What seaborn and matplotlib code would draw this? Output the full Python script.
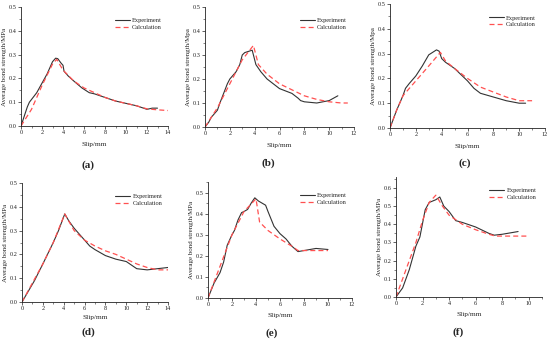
import numpy as np
import pandas as pd
import matplotlib
matplotlib.use("Agg")
import matplotlib.pyplot as plt
import seaborn as sns
from matplotlib.ticker import AutoMinorLocator

# slip (mm) / average bond strength (MPa)
exp_a_x = [0, 0.3, 0.6, 0.8, 1.5, 2, 2.5, 3, 3.3, 3.5, 3.8, 4.0, 4.1, 4.5, 5, 5.8, 6.5, 7, 8, 9, 10, 11, 12, 12.5, 13]
exp_a_y = [0, 0.04, 0.08, 0.10, 0.14, 0.18, 0.22, 0.27, 0.285, 0.283, 0.265, 0.255, 0.23, 0.21, 0.19, 0.16, 0.14, 0.135, 0.12, 0.105, 0.095, 0.085, 0.07, 0.075, 0.075]
cal_a_x = [0, 1, 2, 3, 3.4, 4, 5, 6, 7, 8, 9, 10, 11, 12, 13, 14]
cal_a_y = [0, 0.07, 0.17, 0.26, 0.28, 0.235, 0.19, 0.16, 0.14, 0.12, 0.105, 0.095, 0.085, 0.072, 0.068, 0.065]

exp_b_x = [0, 0.3, 0.5, 1, 1.2, 1.8, 2, 2.5, 2.8, 3, 3.2, 3.5, 3.8, 4, 4.1, 4.5, 5, 6, 7, 7.5, 7.7, 8, 9, 10, 10.7]
exp_b_y = [0, 0.02, 0.04, 0.07, 0.10, 0.18, 0.20, 0.23, 0.26, 0.30, 0.31, 0.315, 0.32, 0.28, 0.26, 0.23, 0.20, 0.16, 0.14, 0.12, 0.11, 0.105, 0.10, 0.11, 0.13]
cal_b_x = [0, 1, 2, 3, 3.9, 4.3, 5, 6, 7, 8, 9, 10, 11, 11.5]
cal_b_y = [0, 0.08, 0.18, 0.28, 0.34, 0.26, 0.22, 0.18, 0.155, 0.13, 0.115, 0.105, 0.10, 0.10]

exp_c_x = [0, 0.5, 1, 1.2, 1.5, 2, 2.5, 3, 3.3, 3.6, 3.8, 4, 4.3, 5, 6, 6.5, 7, 8, 9, 10, 10.5]
exp_c_y = [0, 0.07, 0.13, 0.16, 0.18, 0.21, 0.25, 0.295, 0.305, 0.315, 0.31, 0.28, 0.265, 0.24, 0.19, 0.16, 0.14, 0.125, 0.11, 0.10, 0.10]
cal_c_x = [0, 0.5, 1, 2, 3, 3.9, 4.3, 5, 6, 7, 8, 9, 10, 11]
cal_c_y = [0, 0.07, 0.13, 0.19, 0.25, 0.305, 0.27, 0.24, 0.20, 0.165, 0.145, 0.125, 0.11, 0.11]

exp_d_x = [0, 1.2, 2, 3, 3.5, 4.1, 4.5, 5, 6, 6.5, 7, 8, 9, 10, 11, 12, 13, 14]
exp_d_y = [0, 0.09, 0.16, 0.25, 0.30, 0.37, 0.34, 0.31, 0.26, 0.235, 0.22, 0.195, 0.18, 0.17, 0.14, 0.135, 0.14, 0.145]
cal_d_x = [0, 1, 2, 3, 4.1, 5, 6, 7, 8, 9, 10, 11, 12, 13, 14]
cal_d_y = [0, 0.08, 0.16, 0.25, 0.37, 0.30, 0.26, 0.235, 0.215, 0.20, 0.18, 0.16, 0.145, 0.135, 0.135]

exp_e_x = [0, 0.5, 1, 1.3, 1.6, 2, 2.2, 2.5, 2.8, 3, 3.3, 3.6, 3.9, 4.2, 4.8, 5, 5.5, 6, 6.5, 7, 7.5, 8, 9, 10]
exp_e_y = [0, 0.07, 0.12, 0.17, 0.25, 0.30, 0.32, 0.37, 0.405, 0.41, 0.42, 0.45, 0.475, 0.46, 0.44, 0.41, 0.34, 0.305, 0.28, 0.245, 0.22, 0.225, 0.235, 0.23]
cal_e_x = [0, 1, 2, 3, 4, 4.3, 5, 6, 7, 7.5, 8, 9, 10]
cal_e_y = [0, 0.15, 0.30, 0.41, 0.47, 0.36, 0.32, 0.28, 0.245, 0.225, 0.225, 0.225, 0.225]

exp_f_x = [0, 0.5, 1, 1.5, 1.8, 2.2, 2.5, 3, 3.3, 3.6, 3.8, 4, 4.5, 5, 6, 7, 7.4, 8, 9.2]
exp_f_y = [0, 0.05, 0.15, 0.28, 0.33, 0.48, 0.52, 0.535, 0.55, 0.50, 0.485, 0.47, 0.42, 0.41, 0.385, 0.35, 0.34, 0.345, 0.36]
cal_f_x = [0, 0.5, 1, 1.5, 2, 2.5, 3, 3.5, 4, 5, 6, 7, 7.5, 8, 9, 10]
cal_f_y = [0, 0.10, 0.20, 0.30, 0.42, 0.52, 0.56, 0.50, 0.45, 0.40, 0.37, 0.345, 0.335, 0.335, 0.335, 0.335]

panel_labels = ["(a)", "(b)", "(c)", "(d)", "(e)", "(f)"]
y_labels = ["Average bond strength/MPa", "Average bond strength/Mpa", "Average bond strength/Mpa",
            "Average bond strength/MPa", "Average bond strength/MPa", "Average bond strength/MPa"]

sns.set_style("ticks")
plt.rcParams["font.family"] = ["Liberation Serif", "DejaVu Serif"]

W, H = 550, 341
fig = plt.figure(figsize=(5.5, 3.41), dpi=100)

# pixel boxes: x0, x1, y_bottom, y_top, xmax, ymax, label x, label y, xlabel pad
boxes = [
    (21, 168, 126, 7, 14, 0.5, 88, 165, 5),
    (205, 354, 127, 7, 12, 0.5, 268, 163, 5),
    (390, 545, 128, 4, 12, 0.5, 465, 163, 5),
    (22, 168, 302, 183, 14, 0.5, 88, 332, 3),
    (208, 352, 298, 182, 12, 0.55, 272, 333, 4),
    (396, 542, 297, 177, 11, 0.66, 458, 332, 4),
]

series = [
    (exp_a_x, exp_a_y, cal_a_x, cal_a_y),
    (exp_b_x, exp_b_y, cal_b_x, cal_b_y),
    (exp_c_x, exp_c_y, cal_c_x, cal_c_y),
    (exp_d_x, exp_d_y, cal_d_x, cal_d_y),
    (exp_e_x, exp_e_y, cal_e_x, cal_e_y),
    (exp_f_x, exp_f_y, cal_f_x, cal_f_y),
]

for i, (ex, ey, cx, cy) in enumerate(series):
    x0, x1, yb, yt, xmax, ymax, lx, ly, xpad = boxes[i]
    ax = fig.add_axes([x0 / W, (H - yb) / H, (x1 - x0) / W, (yb - yt) / H])
    df_e = pd.DataFrame({"slip": ex, "tau": ey})
    df_c = pd.DataFrame({"slip": cx, "tau": cy})
    sns.lineplot(data=df_e, x="slip", y="tau", ax=ax, color="#333333", lw=0.8,
                 label="Experiment", sort=False, estimator=None)
    sns.lineplot(data=df_c, x="slip", y="tau", ax=ax, color="#ff5050", lw=0.9,
                 linestyle=(0, (4, 2.5)), label="Calculation", sort=False, estimator=None)
    ax.set_xlim(0, xmax)
    ax.set_ylim(0, ymax)
    ax.set_xticks(np.arange(0, xmax + 0.01, 2))
    ax.set_yticks(np.arange(0, ymax + 0.001, 0.1))
    ax.xaxis.set_minor_locator(AutoMinorLocator(2))
    ax.yaxis.set_minor_locator(AutoMinorLocator(2))
    ax.yaxis.set_major_formatter(matplotlib.ticker.FormatStrFormatter("%.1f"))
    sns.despine(ax=ax)
    for s in ["left", "bottom"]:
        ax.spines[s].set_linewidth(0.6)
        ax.spines[s].set_color("#222222")
    ax.tick_params(which="major", length=2, width=0.5, labelsize=4.5, pad=1, colors="#222222")
    ax.tick_params(which="minor", length=1.2, width=0.4)
    ax.set_xlabel("Slip/mm", fontsize=5.2, labelpad=xpad)
    ax.set_ylabel(y_labels[i], fontsize=5, labelpad=1.5)
    ax.legend(loc="upper left", bbox_to_anchor=(0.62, 0.93), frameon=False, fontsize=4.6,
              handlelength=2.4, handletextpad=0.3, labelspacing=0.2, borderaxespad=0)
    fig.text(lx / W, (H - ly) / H, panel_labels[i], ha="center", va="center",
             fontsize=8, fontweight="bold")

fig.savefig("out.png", dpi=100, facecolor="white")
